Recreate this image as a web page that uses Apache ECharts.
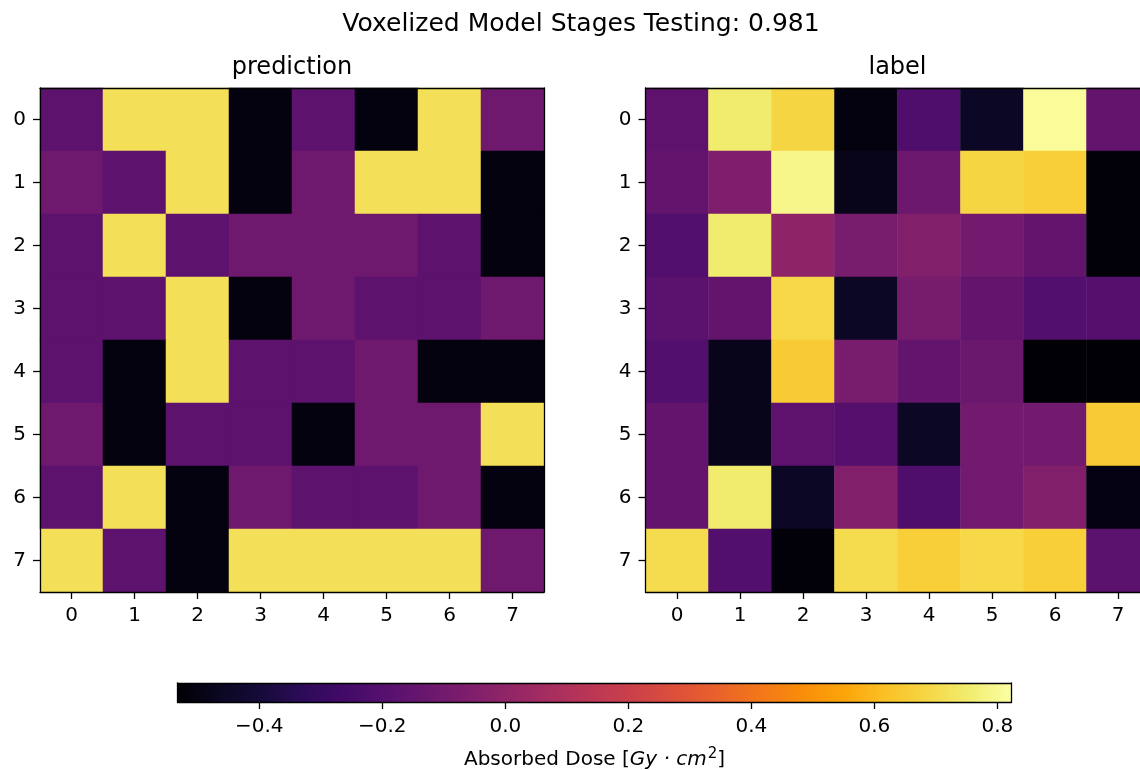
<!DOCTYPE html>
<html>
<head>
<meta charset="utf-8">
<script src="https://cdn.jsdelivr.net/npm/echarts@6/dist/echarts.min.js"></script>
<style>html,body{margin:0;padding:0;background:#fff;overflow:hidden;width:1140px;height:770px}#c{width:1170px;height:770px}</style>
</head>
<body>
<div id="c"></div>
<script>
// ---------- data ----------
const colLabels = ['0','1','2','3','4','5','6','7'];
const rowLabels = ['0','1','2','3','4','5','6','7'];

const predictionValues = [
  [-0.174, 0.715, 0.715,-0.510,-0.174,-0.510, 0.715,-0.110],
  [-0.110,-0.174, 0.715,-0.510,-0.110, 0.715, 0.715,-0.510],
  [-0.174, 0.715,-0.174,-0.110,-0.110,-0.110,-0.174,-0.510],
  [-0.174,-0.174, 0.715,-0.510,-0.110,-0.174,-0.174,-0.110],
  [-0.174,-0.510, 0.715,-0.174,-0.174,-0.110,-0.510,-0.510],
  [-0.110,-0.510,-0.174,-0.174,-0.510,-0.110,-0.110, 0.715],
  [-0.174, 0.715,-0.510,-0.110,-0.174,-0.174,-0.110,-0.510],
  [ 0.715,-0.174,-0.510, 0.715, 0.715, 0.715, 0.715,-0.110]
];

const labelValues = [
  [-0.170, 0.750, 0.680,-0.510,-0.220,-0.460, 0.810,-0.150],
  [-0.150,-0.060, 0.790,-0.480,-0.120, 0.680, 0.660,-0.520],
  [-0.210, 0.750,-0.010,-0.080,-0.050,-0.100,-0.150,-0.520],
  [-0.180,-0.150, 0.690,-0.460,-0.085,-0.150,-0.210,-0.200],
  [-0.210,-0.480, 0.650,-0.080,-0.150,-0.125,-0.530,-0.530],
  [-0.150,-0.480,-0.170,-0.200,-0.460,-0.100,-0.100, 0.650],
  [-0.150, 0.750,-0.460,-0.050,-0.220,-0.100,-0.050,-0.500],
  [ 0.700,-0.210,-0.520, 0.700, 0.660, 0.690, 0.660,-0.180]
];

const colorbarMin = -0.533;
const colorbarMax = 0.823;
const colorbarTicks = [-0.4, -0.2, 0.0, 0.2, 0.4, 0.6, 0.8];

const mainTitle = 'Voxelized Model Stages Testing: 0.981';
const leftTitle = 'prediction';
const rightTitle = 'label';

// inferno colormap stops (evenly spaced)
const inferno = [
  '#000004','#0a0722','#160b39','#2d0b59','#420a68','#57106e','#6a176e','#7f1e6c',
  '#932667','#a82e5f','#bc3754','#cc4248','#dd513a','#ea632a','#f37819','#f98e09',
  '#fca50a','#fac127','#f6d746','#f1ed71','#fcffa4'
];

// ---------- build ----------
function toCells(m) {
  const out = [];
  m.forEach((row, r) => row.forEach((v, c) => out.push([c, r, v])));
  return out;
}
const FONT = 'DejaVu Sans';
const INK = '#000';
const LW = 1.3;

function catAxis(gridIndex, data, position, showLabels, isY) {
  const a = {
    gridIndex, type: 'category', data, position,
    z: 10,
    axisLine: { show: true, onZero: false, lineStyle: { color: INK, width: LW } },
    axisTick: { show: showLabels, alignWithLabel: true, length: 7, lineStyle: { color: INK, width: LW } },
    axisLabel: { show: showLabels, margin: 14, fontSize: 20, color: INK, fontFamily: FONT },
    splitLine: { show: false }
  };
  if (isY) a.inverse = true;
  return a;
}

const stops = inferno.map((c, i) => ({ offset: i / (inferno.length - 1), color: c }));
const fmt = v => v.toFixed(1).replace('-', '\u2212');

const option = {
  animation: false,
  textStyle: { fontFamily: FONT },
  title: [
    { text: mainTitle, left: 581, top: 12, textAlign: 'center', padding: 0,
      textStyle: { fontSize: 25, fontWeight: 'normal', color: INK, fontFamily: FONT } },
    { text: leftTitle, left: 292, top: 56, textAlign: 'center', padding: 0,
      textStyle: { fontSize: 24, fontWeight: 'normal', color: INK, fontFamily: FONT } },
    { text: rightTitle, left: 897.5, top: 56, textAlign: 'center', padding: 0,
      textStyle: { fontSize: 24, fontWeight: 'normal', color: INK, fontFamily: FONT } }
  ],
  grid: [
    { left: 40, top: 88, width: 504, height: 504, outerBoundsMode: 'none', containLabel: false },
    { left: 645.5, top: 88, width: 504, height: 504, outerBoundsMode: 'none', containLabel: false },
    { left: 177.5, top: 683, width: 834, height: 19, outerBoundsMode: 'none', containLabel: false }
  ],
  xAxis: [
    catAxis(0, colLabels, 'bottom', true, false),
    catAxis(0, colLabels, 'top', false, false),
    catAxis(1, colLabels, 'bottom', true, false),
    catAxis(1, colLabels, 'top', false, false),
    {
      gridIndex: 2, type: 'value', min: colorbarMin, max: colorbarMax, position: 'bottom', z: 10,
      axisLine: { show: true, onZero: false, lineStyle: { color: INK, width: LW } },
      axisTick: { show: true, customValues: colorbarTicks, length: 7, lineStyle: { color: INK, width: LW } },
      axisLabel: { show: true, customValues: colorbarTicks, formatter: fmt, margin: 15, fontSize: 20, color: INK, fontFamily: FONT },
      splitLine: { show: false },
      name: '{a|Absorbed Dose [}{i|Gy \u00b7 cm}{s|2}{a|]}',
      nameLocation: 'middle', nameGap: 45,
      nameTextStyle: {
        rich: {
          a: { fontSize: 20, lineHeight: 26, color: INK, fontFamily: FONT },
          i: { fontSize: 20, lineHeight: 26, color: INK, fontFamily: FONT, fontStyle: 'italic' },
          s: { fontSize: 15, lineHeight: 15, color: INK, fontFamily: FONT, padding: [0, 0, 11, 1] }
        }
      }
    },
    {
      gridIndex: 2, type: 'value', min: colorbarMin, max: colorbarMax, position: 'top', z: 10,
      axisLine: { show: true, onZero: false, lineStyle: { color: INK, width: LW } },
      axisTick: { show: false }, axisLabel: { show: false }, splitLine: { show: false }
    }
  ],
  yAxis: [
    catAxis(0, rowLabels, 'left', true, true),
    catAxis(0, rowLabels, 'right', false, true),
    catAxis(1, rowLabels, 'left', true, true),
    catAxis(1, rowLabels, 'right', false, true),
    {
      gridIndex: 2, type: 'value', min: 0, max: 1, position: 'left', z: 10,
      axisLine: { show: true, onZero: false, lineStyle: { color: INK, width: LW } },
      axisTick: { show: false }, axisLabel: { show: false }, splitLine: { show: false }
    },
    {
      gridIndex: 2, type: 'value', min: 0, max: 1, position: 'right', z: 10,
      axisLine: { show: true, onZero: false, lineStyle: { color: INK, width: LW } },
      axisTick: { show: false }, axisLabel: { show: false }, splitLine: { show: false }
    }
  ],
  visualMap: {
    type: 'continuous', show: false, min: colorbarMin, max: colorbarMax,
    dimension: 2, seriesIndex: [0, 1],
    inRange: { color: inferno }
  },
  series: [
    { type: 'heatmap', xAxisIndex: 0, yAxisIndex: 0, data: toCells(predictionValues),
      emphasis: { disabled: true }, itemStyle: { borderWidth: 0 } },
    { type: 'heatmap', xAxisIndex: 2, yAxisIndex: 2, data: toCells(labelValues),
      emphasis: { disabled: true }, itemStyle: { borderWidth: 0 } },
    {
      type: 'custom', xAxisIndex: 4, yAxisIndex: 4,
      data: [[colorbarMin, colorbarMax]],
      encode: { x: [0, 1] },
      renderItem: function (params, api) {
        const p0 = api.coord([api.value(0), 1]);
        const p1 = api.coord([api.value(1), 0]);
        return {
          type: 'rect',
          shape: { x: p0[0], y: p0[1], width: p1[0] - p0[0], height: p1[1] - p0[1] },
          style: { fill: new echarts.graphic.LinearGradient(0, 0, 1, 0, stops) }
        };
      }
    }
  ]
};

const chart = echarts.init(document.getElementById('c'), null, { renderer: 'canvas' });
chart.setOption(option);
</script>
</body>
</html>
